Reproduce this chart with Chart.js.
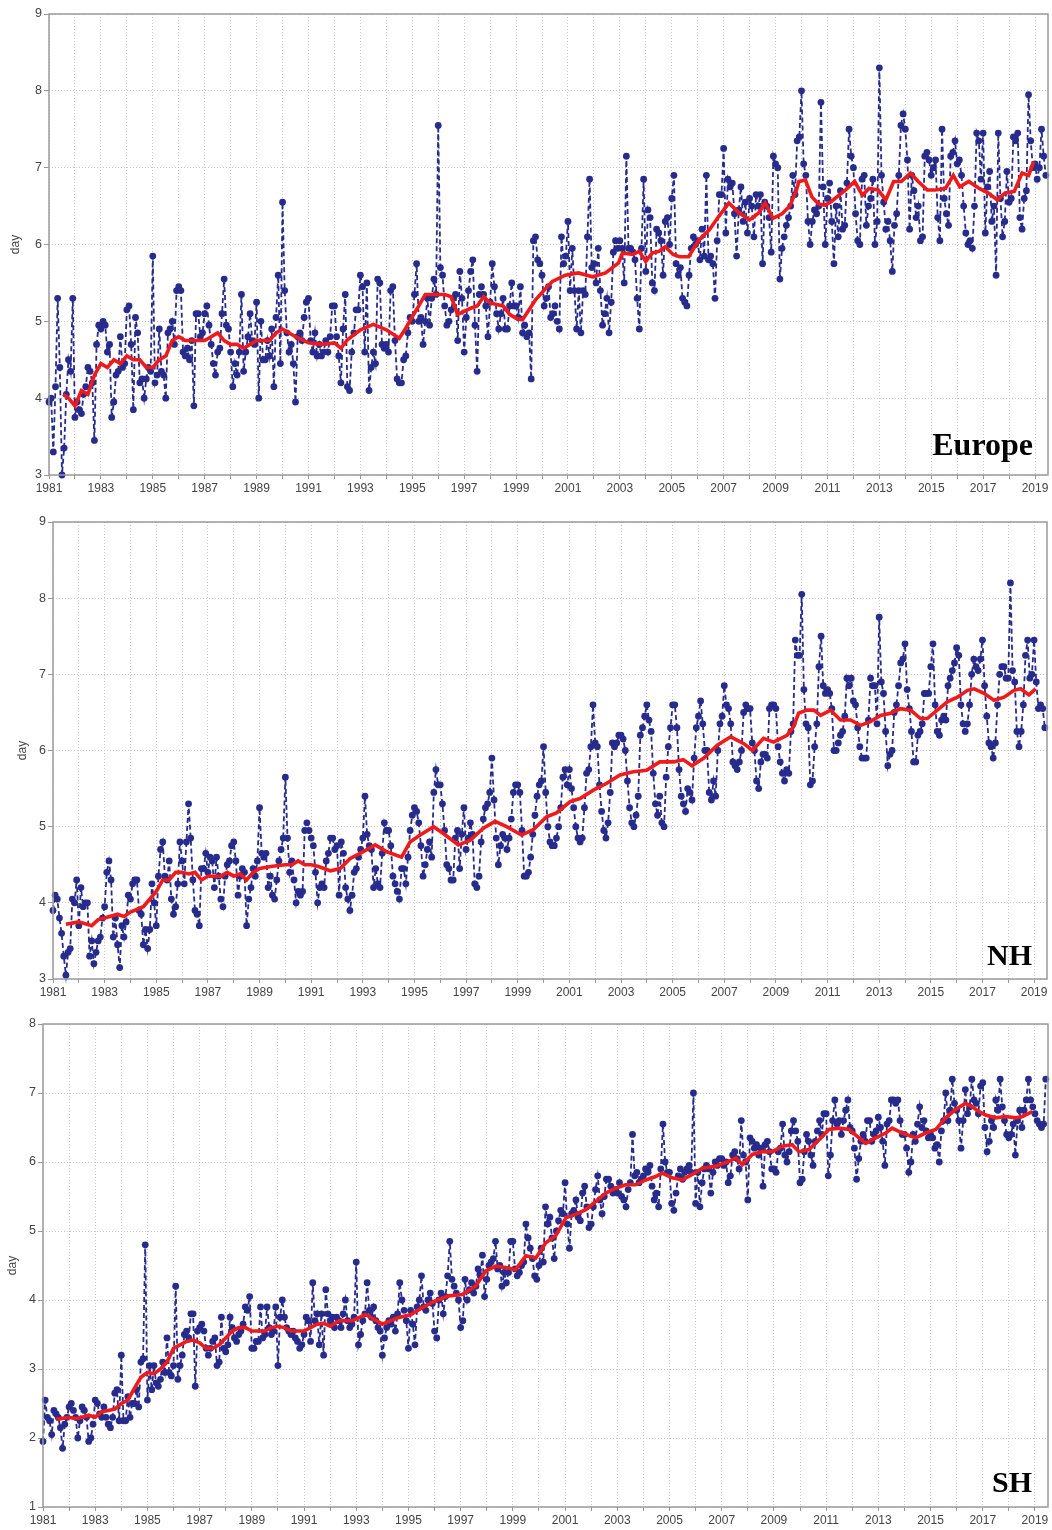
<!DOCTYPE html>
<html>
<head>
<meta charset="utf-8">
<script src="https://cdn.jsdelivr.net/npm/chart.js@4.4.1/dist/chart.umd.min.js"></script>
<style>
html,body{margin:0;padding:0;background:#fff;}
#page{position:relative;width:1052px;height:1530px;overflow:hidden;background:#fff;}
.panel{position:absolute;left:0;width:1052px;}
.panel canvas{display:block;}
.lbl{position:absolute;font-family:'Liberation Serif','DejaVu Serif',serif;font-weight:bold;line-height:1;color:#000;white-space:nowrap;}
</style>
</head>
<body>
<div id="page">
  <div class="panel" style="top:0;height:505px"><canvas id="c1" width="1052" height="505"></canvas></div>
  <div class="panel" style="top:505px;height:505px"><canvas id="c2" width="1052" height="505"></canvas></div>
  <div class="panel" style="top:1010px;height:520px"><canvas id="c3" width="1052" height="520"></canvas></div>
  <div class="lbl" style="right:19px;top:428px;font-size:32px">Europe</div>
  <div class="lbl" style="right:20px;top:940px;font-size:30px">NH</div>
  <div class="lbl" style="right:20px;top:1467px;font-size:30px">SH</div>
</div>
<script>
// ---------- data ----------
const startYear = 1981; // monthly series start in January 1981
const yearTicks = [1981,1982,1983,1984,1985,1986,1987,1988,1989,1990,1991,1992,1993,1994,1995,1996,1997,1998,1999,2000,
  2001,2002,2003,2004,2005,2006,2007,2008,2009,2010,2011,2012,2013,2014,2015,2016,2017,2018,2019];
const labeledYears = [1981,1983,1985,1987,1989,1991,1993,1995,1997,1999,2001,2003,2005,2007,2009,2011,2013,2015,2017,2019];

// Europe monthly values (day)
const euMonthly = [
3.95,4.0,3.3,4.15,5.3,4.4,3.0,3.35,4.05,4.5,4.35,5.3,
3.75,3.95,3.85,3.8,4.05,4.15,4.4,4.35,4.2,3.45,4.7,4.95,
4.9,5.0,4.95,4.6,4.7,3.75,3.95,4.3,4.35,4.8,4.4,4.45,
5.15,5.2,4.7,3.85,5.05,4.85,4.2,4.25,4.0,4.25,4.4,4.35,
5.85,4.2,4.3,4.9,4.35,4.3,4.0,4.85,4.9,5.0,4.7,5.4,
5.45,5.4,4.6,4.55,4.65,4.5,4.75,3.9,5.1,5.1,4.8,4.85,
5.1,5.2,4.95,4.7,4.45,4.3,4.6,4.65,5.1,5.55,4.95,4.9,
4.6,4.15,4.45,4.3,4.6,5.35,4.35,4.6,4.8,5.1,4.75,4.7,
5.25,4.0,5.0,4.5,4.5,4.75,4.55,4.9,4.15,5.05,5.6,4.45,
6.55,5.4,4.85,4.6,4.7,4.45,3.95,4.8,4.85,4.75,5.05,5.25,
5.3,4.75,4.6,4.85,4.55,4.7,4.55,4.6,4.75,4.6,4.8,5.2,
5.2,4.8,4.55,4.2,4.9,5.35,4.15,4.1,4.6,4.85,5.15,5.15,
5.6,5.45,4.6,5.5,4.1,4.4,4.6,4.45,5.55,5.5,4.7,4.65,
4.7,4.6,5.4,5.45,4.75,4.25,4.2,4.2,4.5,4.55,4.85,5.05,
5.0,5.35,5.75,5.0,5.05,4.7,5.0,5.3,4.95,5.3,5.55,5.35,
7.55,5.7,5.6,5.2,4.95,5.0,5.15,5.3,5.35,4.75,5.65,5.3,
4.6,5.05,5.4,5.65,5.8,4.95,4.35,5.35,5.45,5.35,5.2,4.8,
5.25,5.75,5.45,5.1,4.9,5.1,5.3,4.9,4.9,5.2,5.5,5.2,
5.2,5.05,5.45,4.85,4.95,4.8,4.85,4.25,6.05,6.1,5.8,5.75,
5.6,5.2,5.3,5.45,5.05,5.1,5.2,5.0,4.9,6.1,5.75,5.85,
6.3,5.4,5.95,5.4,4.9,5.4,4.85,5.4,5.35,6.1,6.85,5.7,
5.75,5.5,5.95,5.4,4.95,5.1,5.3,4.85,5.25,5.9,6.05,5.95,
6.05,5.95,5.5,7.15,5.95,5.95,5.9,5.8,5.3,4.9,5.95,6.85,
5.65,6.45,6.35,5.5,5.4,6.2,6.15,6.05,5.6,6.3,6.35,6.0,
6.6,6.9,5.75,5.6,5.7,5.3,5.25,5.2,5.6,5.95,6.1,6.0,
6.05,5.8,6.2,5.85,6.9,5.8,5.85,5.75,5.3,6.05,6.65,6.65,
7.25,6.15,6.85,6.75,6.8,6.4,5.85,6.45,6.75,6.3,6.55,6.15,
6.6,6.5,6.1,6.65,6.5,6.65,5.75,6.55,6.5,6.35,5.9,7.15,
7.05,7.0,5.55,5.95,6.1,6.25,6.35,6.5,6.9,6.65,7.35,7.4,
8.0,7.05,6.9,6.3,6.0,6.3,6.45,6.4,6.5,7.85,6.75,6.0,
6.6,6.8,6.3,5.75,6.5,6.1,6.7,6.2,6.25,6.8,7.5,7.15,
7.0,6.4,6.05,6.0,6.85,6.9,6.25,6.5,6.6,6.85,6.0,6.3,
8.3,6.9,6.55,6.2,6.3,6.05,5.65,6.25,6.4,6.9,7.55,7.7,
7.5,7.1,6.2,6.9,6.7,6.35,6.5,6.05,6.1,7.15,7.2,7.1,
6.9,7.0,7.1,6.35,6.05,7.5,6.6,6.4,6.25,7.15,7.2,7.35,
7.05,7.1,6.9,6.5,6.15,6.0,6.05,5.95,6.5,7.45,7.35,6.85,
7.45,6.15,6.75,6.95,6.3,6.5,5.6,7.45,6.6,6.1,6.3,6.95,
6.55,6.6,7.4,7.35,7.45,6.35,6.2,6.6,6.7,7.95,7.35,7.0,
7.05,6.85,7.0,7.5,7.15,6.9
];
// Europe 12-month running mean (red), read at these dates
const euTrendYears = [
1981.55,1981.75,
1982.0,1982.25,1982.5,1982.75,
1983.0,1983.25,1983.5,1983.75,
1984.0,1984.25,1984.5,1984.75,
1985.0,1985.25,1985.5,1985.75,
1986.0,1986.25,1986.5,1986.75,
1987.0,1987.25,1987.5,1987.75,
1988.0,1988.25,1988.5,1988.75,
1989.0,1989.25,1989.5,1989.75,
1990.0,1990.5,
1991.0,1991.5,
1992.0,1992.25,1992.5,
1993.0,1993.5,
1994.0,1994.5,1994.75,
1995.0,1995.25,1995.5,
1996.0,1996.25,1996.5,1996.75,
1997.0,1997.25,1997.5,1997.75,
1998.0,1998.25,1998.5,1998.75,
1999.0,1999.25,1999.5,1999.75,
2000.15,2000.4,2000.9,
2001.4,2001.95,
2002.45,2002.95,
2003.1,2003.5,2003.75,
2004.0,2004.25,2004.5,2004.75,
2005.05,2005.3,2005.65,
2006.05,2006.45,2006.8,
2007.2,2007.6,
2008.0,2008.35,2008.6,2008.9,
2009.25,2009.55,2009.8,2009.9,
2010.15,2010.4,2010.65,2010.9,
2011.15,2011.7,
2012.05,2012.35,2012.6,2012.95,
2013.25,2013.55,2013.85,
2014.2,2014.5,2014.85,
2015.15,2015.55,2015.85,
2016.1,2016.45,2016.85,
2017.2,2017.55,2017.85,
2018.2,2018.5,2018.75,2018.95
];
const euTrendValues = [
4.05,4.0,
3.9,4.1,4.05,4.3,
4.45,4.4,4.5,4.45,
4.55,4.5,4.5,4.4,
4.4,4.5,4.55,4.75,
4.8,4.75,4.75,4.75,
4.75,4.8,4.85,4.75,
4.7,4.7,4.65,4.7,
4.75,4.75,4.75,4.85,
4.9,4.8,
4.72,4.7,
4.72,4.65,4.76,
4.89,4.96,
4.89,4.78,4.91,
5.06,5.2,5.35,
5.35,5.35,5.32,5.09,
5.13,5.17,5.2,5.32,
5.24,5.22,5.2,5.09,
5.04,5.02,5.15,5.28,
5.43,5.52,5.6,
5.63,5.58,
5.63,5.76,
5.89,5.87,5.91,
5.78,5.89,5.91,5.97,
5.87,5.84,5.84,
6.06,6.19,6.36,
6.54,6.41,
6.32,6.41,6.54,6.34,
6.4,6.5,6.7,6.82,
6.84,6.62,6.53,6.51,
6.56,6.71,
6.82,6.64,6.73,6.71,
6.58,6.82,6.82,
6.93,6.82,6.71,
6.71,6.73,6.9,
6.75,6.82,6.73,
6.67,6.58,6.67,
6.69,6.93,6.9,7.08
];

// NH monthly values (day)
const nhMonthly = [
3.9,4.1,4.05,3.8,3.6,3.3,3.05,3.35,3.4,4.05,4.0,4.3,
3.7,4.2,3.95,4.0,4.0,3.3,3.5,3.2,3.35,3.5,3.55,3.8,
3.95,4.4,4.55,4.3,3.55,3.8,3.45,3.15,3.7,3.55,3.75,4.1,
4.05,4.25,4.3,4.3,3.9,3.85,3.45,3.65,3.4,3.65,4.25,4.0,
3.7,4.35,4.7,4.8,4.35,4.3,4.55,4.05,3.85,3.95,4.25,4.8,
4.55,4.25,4.8,5.3,4.85,4.3,3.9,3.85,3.7,4.45,4.45,4.65,
4.4,4.6,4.55,4.2,4.6,4.35,4.05,3.95,4.35,4.5,4.55,4.75,
4.8,4.55,4.1,4.35,4.45,4.4,3.7,4.05,4.2,4.45,4.35,4.55,
5.25,4.65,4.6,4.65,4.2,4.35,4.1,4.05,4.3,4.55,4.7,4.85,
5.65,4.85,4.4,4.55,4.3,4.0,4.15,4.1,4.15,4.95,5.05,4.95,
4.85,4.75,4.4,4.0,4.2,4.25,4.2,4.55,4.65,4.85,4.85,4.7,
4.75,4.1,4.8,4.65,4.2,4.05,3.9,4.1,4.4,4.45,4.6,4.7,
4.85,5.4,4.9,4.75,4.7,4.2,4.45,4.25,4.2,4.65,5.05,4.95,
4.95,4.75,4.35,4.25,4.15,4.05,4.45,4.45,4.25,4.6,4.95,5.15,
5.25,5.2,5.05,4.75,4.35,4.5,4.7,4.8,4.6,5.45,5.75,5.55,
5.55,5.3,4.95,4.5,4.45,4.3,4.3,4.85,4.95,4.45,4.9,5.25,
4.7,4.85,5.05,4.9,4.25,4.2,4.35,4.8,5.1,5.25,5.3,5.45,
5.9,5.35,4.85,4.5,4.75,4.9,4.85,4.7,4.85,5.1,5.45,5.55,
5.55,5.45,4.95,4.35,4.35,4.4,4.6,4.9,5.15,5.4,5.55,5.6,
6.05,5.45,5.0,4.8,4.75,4.75,4.85,5.0,5.25,5.65,5.75,5.55,
5.75,5.5,5.25,5.0,4.85,4.8,4.85,5.25,5.7,5.75,6.05,6.6,
6.1,6.05,5.55,5.2,4.95,4.85,5.05,5.45,6.1,6.05,6.1,6.2,
6.2,6.15,6.0,5.6,5.25,5.05,5.0,5.15,5.4,6.2,6.3,6.45,
6.6,6.4,6.25,5.7,5.3,5.15,5.4,5.05,5.0,5.65,6.05,6.3,
6.6,6.6,6.3,5.75,5.4,5.3,5.2,5.5,5.45,5.35,5.9,6.3,
6.45,6.65,6.35,6.0,6.0,5.45,5.35,5.6,5.4,6.0,6.35,6.45,
6.85,6.6,6.55,6.35,5.85,5.8,5.75,5.85,6.0,6.5,6.6,6.55,
6.55,6.1,6.0,5.6,5.5,5.85,5.95,5.95,5.9,6.55,6.6,6.6,
6.55,6.05,5.85,5.7,5.6,5.75,5.7,6.25,6.35,7.45,7.25,7.25,
8.05,6.8,6.35,6.3,5.55,5.6,6.05,6.35,7.1,7.5,6.85,6.75,
6.8,6.75,6.55,6.0,6.0,6.1,6.2,6.25,6.45,6.95,6.85,6.95,
6.65,6.6,6.3,6.05,5.9,5.9,5.9,6.4,6.95,6.85,6.85,6.35,
7.75,6.9,6.75,6.25,5.8,5.95,6.0,6.5,6.6,6.85,7.15,7.2,
7.4,6.8,6.55,6.25,5.85,5.85,6.2,6.25,6.35,6.75,6.75,6.75,
7.1,7.4,6.6,6.25,6.2,6.4,6.45,6.4,6.85,6.95,7.05,7.15,
7.35,7.25,6.6,6.35,6.25,6.35,6.6,7.0,7.2,7.1,7.05,7.2,
7.45,6.85,6.45,6.1,6.05,5.9,6.1,6.6,7.0,7.1,7.1,6.95,
6.95,8.2,7.05,6.9,6.25,6.05,6.25,6.6,7.25,7.45,6.95,7.0,
7.45,6.9,6.55,6.6,6.55,6.3
];
const nhTrendYears = [
1981.5,
1982.0,1982.5,1982.75,
1983.0,1983.5,1983.75,
1984.0,1984.5,1984.75,
1985.0,1985.25,1985.5,1985.75,
1986.0,1986.25,1986.5,1986.75,
1987.0,1987.5,1987.75,
1988.0,1988.25,1988.5,1988.75,
1989.0,1989.5,
1990.0,1990.25,1990.5,1990.75,
1991.0,1991.25,1991.5,1991.75,
1992.12,1992.5,
1993.0,1993.48,1993.93,
1994.5,1994.83,
1995.22,1995.74,
1996.12,1996.7,
1997.15,1997.67,
1998.12,1998.57,
1999.15,1999.6,
2000.12,2000.5,
2001.03,2001.41,2001.93,
2002.45,2002.96,
2003.48,2003.99,
2004.5,
2005.03,2005.41,2005.75,
2006.21,2006.73,
2007.25,2007.76,
2008.09,2008.52,2008.91,
2009.43,2009.68,2009.88,
2010.2,2010.47,2010.73,
2011.12,2011.5,2011.89,
2012.28,2012.66,
2013.05,2013.44,2013.83,
2014.22,2014.6,2014.86,
2015.25,2015.64,
2016.03,2016.42,2016.68,
2017.06,2017.45,2017.84,
2018.22,2018.48,2018.8,
2019.06
];
const nhTrendValues = [
3.72,
3.75,3.7,3.78,
3.8,3.85,3.82,
3.88,3.95,4.05,
4.15,4.3,4.3,4.4,
4.4,4.38,4.4,4.3,
4.35,4.35,4.4,
4.35,4.38,4.3,4.4,
4.45,4.48,
4.5,4.5,4.55,4.5,
4.5,4.48,4.45,4.42,
4.45,4.58,
4.67,4.76,4.67,
4.6,4.8,
4.89,5.0,
4.91,4.76,
4.82,4.98,
5.07,5.0,
4.89,4.96,
5.13,5.18,
5.33,5.37,5.48,
5.57,5.68,
5.72,5.74,
5.85,
5.85,5.88,5.8,
5.9,6.07,
6.18,6.09,
6.0,6.16,6.11,
6.2,6.31,6.49,
6.53,6.53,6.46,
6.53,6.4,6.4,
6.33,6.38,
6.46,6.49,6.55,
6.53,6.42,6.42,
6.53,6.64,
6.7,6.79,6.81,
6.75,6.66,6.7,
6.79,6.81,6.73,
6.81
];

// SH monthly values (day)
const shMonthly = [
1.95,2.55,2.3,2.25,2.05,2.4,2.35,2.3,2.15,1.85,2.2,2.3,
2.45,2.5,2.4,2.3,2.0,2.25,2.45,2.4,2.3,1.95,2.0,2.2,
2.55,2.5,2.35,2.3,2.45,2.3,2.2,2.15,2.3,2.65,2.7,2.25,
3.2,2.25,2.25,2.6,2.3,2.5,2.5,2.7,2.45,3.1,3.15,4.8,
2.55,3.05,2.7,3.05,2.8,2.75,2.85,3.1,2.95,3.45,2.95,2.9,
3.05,4.2,2.85,3.05,3.2,3.5,3.55,3.45,3.8,3.8,2.75,3.55,
3.6,3.65,3.55,3.3,3.2,3.3,3.4,3.45,3.05,3.1,3.75,3.3,
3.25,3.35,3.75,3.6,3.45,3.4,3.5,3.55,3.65,3.9,3.85,4.05,
3.3,3.3,3.4,3.4,3.9,3.45,3.5,3.9,3.6,3.5,3.55,3.9,
3.05,3.75,4.0,3.75,3.6,3.55,3.5,3.55,3.45,3.4,3.3,3.35,
3.5,3.75,3.7,3.4,4.25,3.7,3.8,3.35,3.8,3.2,4.15,3.8,
3.7,3.75,3.6,3.75,3.7,3.6,3.8,4.0,3.7,3.6,3.65,3.75,
4.55,3.35,3.5,3.7,3.8,4.25,3.85,3.75,3.9,3.7,3.6,3.55,
3.2,3.45,3.6,3.7,3.65,3.75,3.55,3.8,4.25,4.0,3.85,3.7,
3.3,3.85,3.65,3.35,3.9,4.0,4.35,3.9,3.85,4.0,4.1,3.95,
3.55,3.45,4.0,4.1,3.8,4.05,4.35,4.85,4.3,4.2,4.1,4.0,
3.6,3.7,4.3,4.0,4.15,4.25,4.1,4.2,4.45,4.35,4.65,4.05,
4.3,4.5,4.55,4.6,4.85,4.45,4.5,4.2,4.4,4.25,4.4,4.85,
4.85,4.45,4.35,4.4,4.5,4.55,5.1,4.9,4.75,4.6,4.35,4.3,
4.5,4.75,4.55,5.35,5.1,5.2,4.9,4.6,5.0,5.15,5.3,5.25,
5.7,5.1,4.75,5.25,5.3,5.45,5.2,5.15,5.55,5.65,5.35,5.05,
5.1,5.35,5.6,5.8,5.45,5.25,5.5,5.75,5.75,5.65,5.55,5.6,
5.55,5.7,5.5,5.45,5.35,5.6,5.7,6.4,5.8,5.85,5.7,5.75,
5.8,5.9,5.85,5.95,5.65,5.45,5.55,5.35,5.9,6.55,6.0,5.85,
5.85,5.4,5.3,5.55,5.8,5.9,5.75,5.85,5.9,5.95,5.85,7.0,
5.4,5.85,5.35,5.7,5.9,5.95,5.9,5.55,5.85,6.0,5.95,6.05,
6.05,5.95,6.0,5.7,5.8,6.1,6.15,6.05,5.9,6.6,6.1,6.0,
5.45,6.35,6.3,6.2,6.25,6.1,6.2,5.65,6.25,6.3,6.15,5.9,
5.9,5.85,6.15,6.2,6.55,6.1,6.0,6.15,6.45,6.6,6.45,6.3,
5.7,5.75,6.15,6.4,6.3,6.1,5.95,6.3,6.45,6.6,6.4,6.7,
6.7,5.8,6.1,6.6,6.9,6.55,6.6,6.4,6.6,6.75,6.9,6.5,
6.45,6.2,5.75,6.05,6.3,6.4,6.3,6.6,6.6,6.3,6.4,6.45,
6.65,6.5,6.3,5.95,6.55,6.6,6.9,6.9,6.85,6.9,6.6,6.4,
6.4,6.2,5.85,6.0,6.4,6.3,6.55,6.8,6.5,6.6,6.45,6.35,
6.4,6.35,6.2,6.25,6.0,6.45,6.6,7.0,6.6,6.75,7.2,6.85,
6.75,6.6,6.2,6.6,7.05,6.7,6.8,7.2,6.9,6.85,6.7,7.1,
7.15,6.5,6.15,6.3,6.6,6.5,6.9,6.75,7.2,6.8,6.6,6.4,
6.35,6.4,6.55,6.1,6.6,6.75,6.5,6.75,6.9,7.2,6.9,6.8,
6.7,6.6,6.55,6.5,6.55,7.2
];
const shTrendYears = [
1981.5,
1982.0,1982.25,1982.5,1982.75,
1983.0,1983.25,1983.5,1983.75,
1984.0,1984.25,1984.5,1984.75,
1985.0,1985.25,1985.5,1985.75,
1986.0,1986.25,1986.5,1986.75,
1987.0,1987.25,1987.5,1987.75,
1988.0,1988.25,1988.5,1988.75,
1989.0,1989.25,1989.5,1989.75,
1990.0,1990.25,1990.5,1990.75,
1991.0,1991.25,1991.5,1991.75,
1992.0,1992.34,1992.85,
1993.36,
1994.0,1994.57,
1995.09,1995.53,
1996.04,1996.55,
1997.06,1997.57,1997.96,
1998.34,1998.72,
1999.1,1999.5,1999.88,
2000.26,2000.64,
2001.03,2001.4,2001.79,
2002.18,2002.56,2002.94,
2003.32,2003.7,
2004.09,2004.47,2004.72,
2005.1,2005.49,2005.87,
2006.26,2006.77,
2007.28,2007.54,2007.79,
2008.17,2008.56,2008.94,
2009.32,2009.7,2009.96,
2010.34,2010.72,
2011.11,2011.49,2011.88,
2012.26,2012.52,2012.9,
2013.28,2013.53,2013.92,
2014.43,2014.81,
2015.2,2015.58,2015.96,
2016.34,2016.6,2016.86,
2017.11,2017.5,2017.88,
2018.27,2018.52,2018.9
];
const shTrendValues = [
2.27,
2.3,2.28,2.3,2.33,
2.3,2.38,2.4,2.42,
2.5,2.55,2.72,2.88,
2.95,2.93,3.0,3.1,
3.3,3.35,3.4,3.42,
3.38,3.3,3.3,3.35,
3.45,3.55,3.6,3.6,
3.55,3.55,3.55,3.6,
3.62,3.6,3.55,3.55,
3.55,3.6,3.65,3.66,
3.62,3.7,3.7,
3.79,
3.65,3.74,
3.79,3.89,
3.99,4.06,
4.08,4.2,4.42,
4.49,4.47,
4.44,4.64,4.61,
4.83,4.93,
5.19,5.24,5.31,
5.43,5.55,5.62,
5.67,5.67,
5.74,5.79,5.84,
5.77,5.74,5.82,
5.91,5.94,
6.01,6.06,5.96,
6.11,6.15,6.15,
6.23,6.25,6.15,
6.18,6.32,
6.47,6.49,6.47,
6.35,6.27,6.35,
6.42,6.49,6.42,
6.35,6.42,
6.47,6.64,6.76,
6.85,6.8,6.73,
6.68,6.64,6.66,
6.64,6.66,6.73
];

// ---------- drawing ----------
const BLUE = '#262b8c';
const RED = '#f01a1a';
const FONT = "'Liberation Sans', Arial, Helvetica, sans-serif";

function monthlyPoints(vals) {
  return vals.map((v, i) => ({ x: startYear + i / 12, y: v }));
}
function trendPoints(xs, ys) {
  return xs.map((x, i) => ({ x: x, y: ys[i] }));
}

const framePlugin = {
  id: 'frame',
  afterDraw(chart) {
    const a = chart.chartArea, ctx = chart.ctx;
    ctx.save();
    ctx.strokeStyle = '#9a9a9a';
    ctx.lineWidth = 1.5;
    ctx.strokeRect(a.left, a.top, a.right - a.left, a.bottom - a.top);
    ctx.restore();
  }
};

function makePanel(id, monthly, tYears, tVals, cfg) {
  new Chart(document.getElementById(id), {
    type: 'line',
    data: {
      datasets: [
        { label: 'running mean', data: trendPoints(tYears, tVals), borderColor: RED, backgroundColor: RED,
          borderWidth: 3.6, pointRadius: 0, tension: 0, order: 0, clip: false },
        { label: 'monthly', data: monthlyPoints(monthly), borderColor: BLUE, backgroundColor: BLUE,
          borderWidth: 1.8, borderDash: [5, 3], pointRadius: 3.4, pointBackgroundColor: BLUE,
          pointBorderWidth: 0, tension: 0, order: 1, clip: false }
      ]
    },
    options: {
      responsive: false, animation: false, devicePixelRatio: 1,
      layout: { padding: { left: 0, right: cfg.padRight, top: cfg.padTop, bottom: 0 } },
      plugins: { legend: { display: false }, tooltip: { enabled: false } },
      scales: {
        x: {
          type: 'linear', min: 1981, max: 2019.5,
          afterBuildTicks: s => { s.ticks = yearTicks.map(v => ({ value: v })); },
          afterFit: s => { s.height = cfg.axisH; },
          ticks: { autoSkip: false, maxRotation: 0, minRotation: 0, padding: 2, color: '#444',
                   font: { family: FONT, size: 12 },
                   callback: v => labeledYears.includes(v) ? String(v) : '' },
          grid: { color: '#c8c8c8', lineWidth: 1, drawTicks: true, tickLength: 4, tickColor: '#999', tickWidth: 1, tickBorderDash: [] },
          border: { display: false, dash: [1, 2] }
        },
        y: {
          min: cfg.yMin, max: cfg.yMax,
          afterFit: s => { s.width = cfg.axisW; },
          ticks: { stepSize: 1, padding: 2, color: '#444', font: { family: FONT, size: 12.5 } },
          grid: { color: '#c8c8c8', lineWidth: 1, drawTicks: true, tickLength: 5, tickColor: '#999', tickWidth: 1, tickBorderDash: [] },
          border: { display: false, dash: [1, 2] },
          title: { display: true, text: 'day', color: '#444', font: { family: FONT, size: 12 },
                   padding: { top: cfg.titlePad, bottom: 0 } }
        }
      }
    },
    plugins: [framePlugin]
  });
}

makePanel('c1', euMonthly, euTrendYears, euTrendValues,
  { yMin: 3, yMax: 9, padTop: 14, padRight: 3, axisW: 49, axisH: 30, titlePad: 8 });
makePanel('c2', nhMonthly, nhTrendYears, nhTrendValues,
  { yMin: 3, yMax: 9, padTop: 17, padRight: 5, axisW: 53, axisH: 31, titlePad: 15 });
makePanel('c3', shMonthly, shTrendYears, shTrendValues,
  { yMin: 1, yMax: 8, padTop: 14, padRight: 2, axisW: 43, axisH: 23, titlePad: 5 });
</script>
</body>
</html>
